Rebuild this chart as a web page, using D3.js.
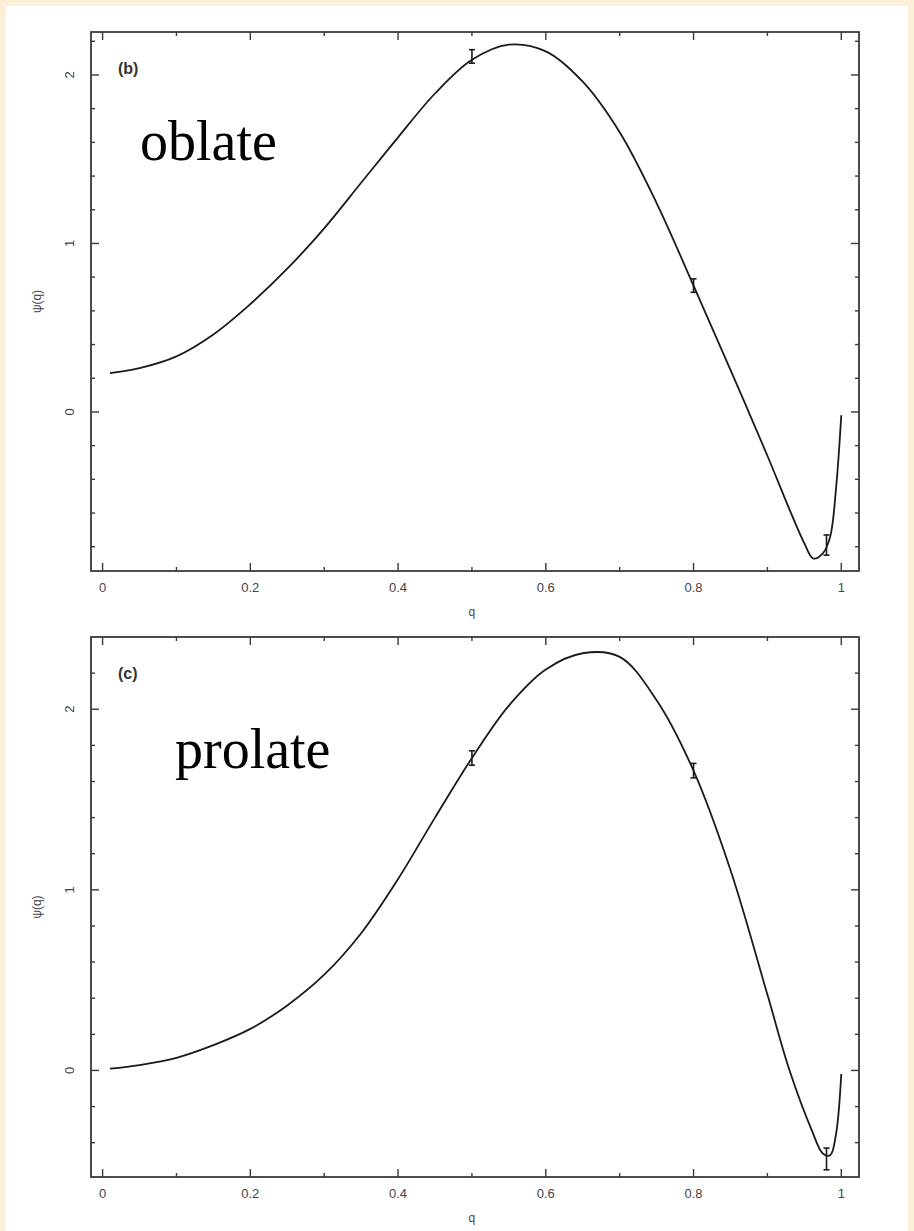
<!DOCTYPE html>
<html><head><meta charset="utf-8">
<script src="https://cdn.jsdelivr.net/npm/d3@7"></script>
<style>
html,body{margin:0;padding:0;background:#fcefd8;}
svg{display:block;}
</style></head>
<body>
<svg id="chart" width="914" height="1231"></svg>
<script>
// ---- data ----
const qB = [0.01,0.05,0.1,0.15,0.2,0.25,0.3,0.35,0.4,0.45,0.5,0.55,0.6,0.65,0.7,0.75,0.8,0.85,0.9,0.93,0.95,0.962,0.975,0.985,0.993,1.0];
const psiB = [0.23,0.26,0.33,0.46,0.64,0.85,1.09,1.36,1.63,1.89,2.09,2.18,2.14,1.96,1.66,1.24,0.75,0.25,-0.26,-0.58,-0.78,-0.87,-0.84,-0.74,-0.45,-0.02];
const errQB = [0.5,0.8,0.98];
const errPsiB = [2.11,0.75,-0.79];
const errSizeB = [0.04,0.04,0.06];

const qC = [0.01,0.05,0.1,0.15,0.2,0.25,0.3,0.35,0.4,0.45,0.5,0.55,0.6,0.65,0.7,0.75,0.8,0.85,0.9,0.93,0.96,0.975,0.985,0.993,1.0];
const psiC = [0.01,0.03,0.07,0.14,0.23,0.36,0.53,0.76,1.06,1.40,1.73,2.02,2.22,2.31,2.29,2.05,1.66,1.11,0.42,0.0,-0.33,-0.46,-0.47,-0.35,-0.02];
const errQC = [0.5,0.8,0.98];
const errPsiC = [1.73,1.66,-0.49];
const errSizeC = [0.04,0.04,0.06];

const xTicks = [0,0.2,0.4,0.6,0.8,1];
const xTickLabels = ["0","0.2","0.4","0.6","0.8","1"];
const xMinor = [0.1,0.3,0.5,0.7,0.9];
const yTicksB = [0,1,2];
const yTicksC = [0,1,2];

const panels = [
  {tag:"(b)", name:"oblate", q:qB, psi:psiB, eq:errQB, ep:errPsiB, es:errSizeB, yTicks:yTicksB,
   top:32, bottom:571, yDom:[-0.944,2.255], nameX:140, nameY:160},
  {tag:"(c)", name:"prolate", q:qC, psi:psiC, eq:errQC, ep:errPsiC, es:errSizeC, yTicks:yTicksC,
   top:637, bottom:1177, yDom:[-0.59,2.40], nameX:175, nameY:768}
];

const svg = d3.select("#chart");
svg.append("rect").attr("x",6).attr("y",6).attr("width",902).attr("height",1225).attr("fill","#ffffff");

const left = 91, right = 859;
const axCol = "#3a3a3a";
const sans = "Liberation Sans, Arial, sans-serif";

panels.forEach(p => {
  const x = d3.scaleLinear().domain([-0.0157,1.024]).range([left,right]);
  const y = d3.scaleLinear().domain(p.yDom).range([p.bottom,p.top]);
  const g = svg.append("g");

  const yMinor = d3.range(Math.ceil(p.yDom[0]/0.2), Math.floor(p.yDom[1]/0.2)+1).map(k=>+(k*0.2).toFixed(2)).filter(v=>!p.yTicks.includes(v));
  const tk = g.append("g").attr("stroke",axCol).attr("stroke-width",1.4);
  xTicks.forEach(v=>{
    tk.append("line").attr("x1",x(v)).attr("x2",x(v)).attr("y1",p.bottom).attr("y2",p.bottom-8);
    tk.append("line").attr("x1",x(v)).attr("x2",x(v)).attr("y1",p.top).attr("y2",p.top+8);
  });
  xMinor.forEach(v=>{
    tk.append("line").attr("x1",x(v)).attr("x2",x(v)).attr("y1",p.bottom).attr("y2",p.bottom-4);
    tk.append("line").attr("x1",x(v)).attr("x2",x(v)).attr("y1",p.top).attr("y2",p.top+4);
  });
  p.yTicks.forEach(v=>{
    tk.append("line").attr("x1",left).attr("x2",left+8).attr("y1",y(v)).attr("y2",y(v));
    tk.append("line").attr("x1",right).attr("x2",right-8).attr("y1",y(v)).attr("y2",y(v));
  });
  yMinor.forEach(v=>{
    tk.append("line").attr("x1",left).attr("x2",left+4).attr("y1",y(v)).attr("y2",y(v));
    tk.append("line").attr("x1",right).attr("x2",right-4).attr("y1",y(v)).attr("y2",y(v));
  });

  g.append("rect").attr("x",left).attr("y",p.top).attr("width",right-left).attr("height",p.bottom-p.top)
    .attr("fill","none").attr("stroke",axCol).attr("stroke-width",1.8);

  g.selectAll(".xl").data(xTicks).enter().append("text")
    .attr("x",(d)=>x(d)).attr("y",p.bottom+21)
    .attr("text-anchor","middle").attr("font-family",sans)
    .attr("font-size",13).attr("fill","#444").text((d,i)=>xTickLabels[i]);
  g.selectAll(".yl").data(p.yTicks).enter().append("text")
    .attr("transform",d=>`translate(${left-17},${y(d)}) rotate(-90)`)
    .attr("text-anchor","middle").attr("font-family",sans)
    .attr("font-size",13).attr("fill","#444").text(d=>d);
  g.append("text").attr("x",x(0.5)).attr("y",p.bottom+45).attr("text-anchor","middle")
    .attr("font-family",sans).attr("font-size",12).attr("fill","#444").text("q");
  g.append("text").attr("transform",`translate(${left-50},${(p.top+p.bottom)/2}) rotate(-90)`)
    .attr("text-anchor","middle").attr("font-family",sans)
    .attr("font-size",12).attr("fill","#444").text("ψ(q)");

  g.append("text").attr("x",left+27).attr("y",p.top+42).attr("font-family",sans)
    .attr("font-size",16).attr("font-weight","bold").attr("fill","#333").text(p.tag);
  g.append("text").attr("x",p.nameX).attr("y",p.nameY).attr("font-family","Liberation Serif, Times New Roman, serif")
    .attr("font-size",56).attr("fill","#000").text(p.name);

  const pts = p.q.map((q,i)=>[q,p.psi[i]]);
  const line = d3.line().x(d=>x(d[0])).y(d=>y(d[1])).curve(d3.curveCatmullRom.alpha(0.5));
  g.append("path").attr("d",line(pts)).attr("fill","none").attr("stroke","#1a1a1a").attr("stroke-width",1.8);

  p.eq.forEach((q,i)=>{
    const cx = x(q), y1 = y(p.ep[i]+p.es[i]), y2 = y(p.ep[i]-p.es[i]);
    const eb = g.append("g").attr("stroke","#1a1a1a").attr("stroke-width",1.6);
    eb.append("line").attr("x1",cx).attr("x2",cx).attr("y1",y1).attr("y2",y2);
    eb.append("line").attr("x1",cx-3).attr("x2",cx+3).attr("y1",y1).attr("y2",y1);
    eb.append("line").attr("x1",cx-3).attr("x2",cx+3).attr("y1",y2).attr("y2",y2);
  });
});
</script>
</body></html>
